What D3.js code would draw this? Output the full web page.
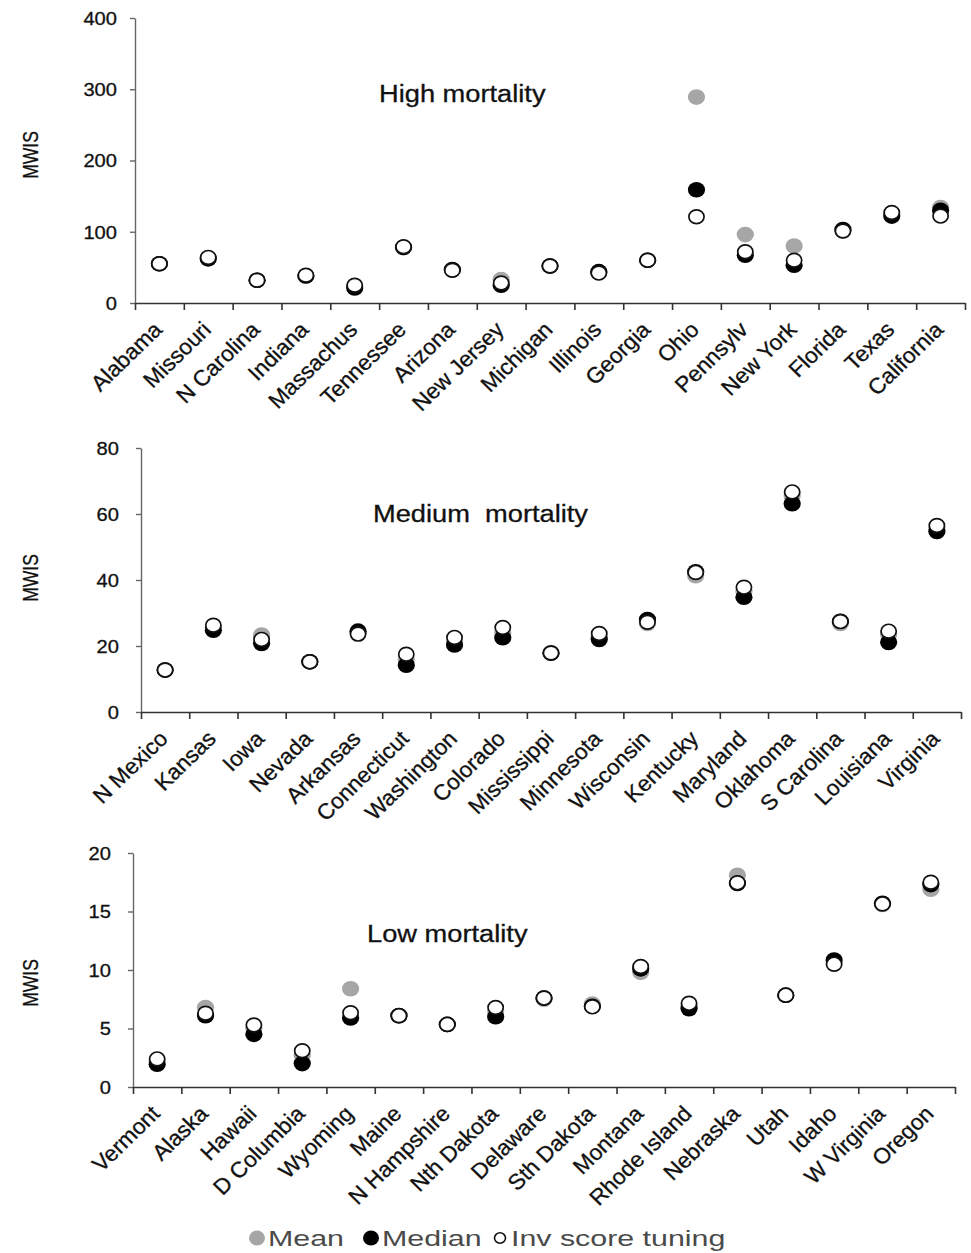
<!DOCTYPE html>
<html>
<head>
<meta charset="utf-8">
<script src="https://cdn.jsdelivr.net/npm/d3@7"></script>
<style>
  html, body { margin: 0; padding: 0; background: #fff; }
  svg { display: block; font-family: "Liberation Sans", Arial, sans-serif; }
</style>
</head>
<body>
<div id="chart"></div>
<script>
// ---------- data ----------
const highStates = ["Alabama", "Missouri", "N Carolina", "Indiana", "Massachus", "Tennessee", "Arizona",
  "New Jersey", "Michigan", "Illinois", "Georgia", "Ohio", "Pennsylv", "New York", "Florida", "Texas", "California"];
const highMean   = [55, 63, 32, 38, 24, 78, 46, 33, 52, 43, 60, 289, 96, 80, 101, 125, 134];
const highMedian = [55, 62, 32, 38, 21, 78, 47, 25, 52, 44, 60, 159, 67, 53, 103, 122, 130];
const highInv    = [55, 64, 32, 39, 25, 79, 46, 28, 52, 42, 60, 121, 72, 60, 101, 127, 122];

const medStates = ["N Mexico", "Kansas", "Iowa", "Nevada", "Arkansas", "Connecticut", "Washington", "Colorado",
  "Mississippi", "Minnesota", "Wisconsin", "Kentucky", "Maryland", "Oklahoma", "S Carolina", "Louisiana", "Virginia"];
const medMean   = [12.7, 25.5, 23.3, 15.2, 24, 16, 21.5, 24, 18, 23, 26.8, 41.3, 36.5, 65.5, 26.8, 23.5, 56];
const medMedian = [12.7, 24.8, 20.8, 15.2, 24.5, 14.2, 20.3, 22.5, 17.8, 22, 28, 42.5, 34.8, 63.1, 27.5, 21.1, 54.7];
const medInv    = [12.7, 26.3, 22, 15.2, 23.6, 17.5, 22.6, 25.6, 17.9, 23.8, 27.2, 42.3, 37.8, 66.7, 27.4, 24.5, 56.5];

const lowStates = ["Vermont", "Alaska", "Hawaii", "D Columbia", "Wyoming", "Maine", "N Hampshire", "Nth Dakota",
  "Delaware", "Sth Dakota", "Montana", "Rhode Island", "Nebraska", "Utah", "Idaho", "W Virginia", "Oregon"];
const lowMean   = [2.2, 6.8, 5.0, 2.7, 8.4, 6.1, 5.35, 6.5, 7.5, 7.1, 9.8, 7.0, 18.1, 7.85, 10.6, 15.6, 16.9];
const lowMedian = [1.95, 6.1, 4.5, 2.0, 5.9, 6.1, 5.35, 6.0, 7.6, 6.9, 10.1, 6.7, 17.4, 7.85, 10.85, 15.7, 17.3];
const lowInv    = [2.4, 6.3, 5.3, 3.1, 6.35, 6.1, 5.35, 6.8, 7.6, 6.85, 10.3, 7.15, 17.45, 7.85, 10.5, 15.65, 17.5];

const highTicks = [0, 100, 200, 300, 400];
const medTicks = [0, 20, 40, 60, 80];
const lowTicks = [0, 5, 10, 15, 20];

const seriesNames = ["Mean", "Median", "Inv score tuning"];

// ---------- layout ----------
const W = 971, H = 1253;
const GREY = "#a6a6a6";

const panels = [
  { title: "High mortality", cats: highStates, series: [highMean, highMedian, highInv], ticks: highTicks,
    x0: 135, x1: 965, yTop: 18, yBot: 303, tickOff: 18, titleX: 379, titleY: 102, labelY: 155 },
  { title: "Medium  mortality", cats: medStates, series: [medMean, medMedian, medInv], ticks: medTicks,
    x0: 141, x1: 961, yTop: 448, yBot: 712, tickOff: 22, titleX: 373, titleY: 522, labelY: 578 },
  { title: "Low mortality", cats: lowStates, series: [lowMean, lowMedian, lowInv], ticks: lowTicks,
    x0: 133, x1: 955, yTop: 853, yBot: 1087, tickOff: 22, titleX: 367, titleY: 942, labelY: 983 }
];

const svg = d3.select("#chart").append("svg")
  .attr("width", W)
  .attr("height", H)
  .style("background", "#fff");

// text that is a bit wider than the font, like in the source picture
function wideText(parent, x, y, angle, sx, size, anchor, str) {
  return parent.append("text")
    .attr("transform", `translate(${x},${y}) scale(${sx},1) rotate(${angle})`)
    .attr("text-anchor", anchor)
    .style("font-size", size + "px")
    .style("white-space", "pre")
    .text(str);
}

panels.forEach(function (p) {
  const g = svg.append("g");
  const n = p.cats.length;

  const y = d3.scaleLinear()
    .domain([0, d3.max(p.ticks)])
    .range([p.yBot, p.yTop]);

  const band = d3.scaleBand()
    .domain(p.cats)
    .range([p.x0, p.x1])
    .padding(0);

  const edge = d3.scaleLinear()
    .domain([0, n])
    .range([p.x0, p.x1]);

  // y axis
  const yAxis = g.append("g")
    .attr("transform", `translate(${p.x0},0)`)
    .call(d3.axisLeft(y).tickValues(p.ticks).tickSize(5).tickSizeOuter(0));
  yAxis.select(".domain").attr("stroke", "#666").attr("stroke-width", 1.4);
  yAxis.selectAll(".tick line").attr("stroke", "#666").attr("stroke-width", 1.4);
  yAxis.selectAll(".tick text")
    .attr("x", null)
    .attr("dy", "0.36em")
    .attr("transform", `translate(${-p.tickOff},0) scale(1.15,1)`)
    .attr("fill", "#111")
    .attr("stroke", "#111")
    .attr("stroke-width", 0.3)
    .style("font-size", "17.5px")
    .style("font-family", "'Liberation Sans', Arial, sans-serif");

  // x axis (ticks on category edges)
  const xAxis = g.append("g")
    .attr("transform", `translate(0,${p.yBot})`)
    .call(d3.axisBottom(edge).tickValues(d3.range(n + 1)).tickSize(7).tickSizeOuter(0).tickFormat(""));
  xAxis.select(".domain").attr("stroke", "#333").attr("stroke-width", 1.6);
  xAxis.selectAll(".tick line").attr("stroke", "#333").attr("stroke-width", 1.6);

  // category labels
  const lab = g.append("g").attr("fill", "#111").attr("stroke", "#111").attr("stroke-width", 0.3);
  p.cats.forEach(function (c) {
    wideText(lab, band(c) + band.bandwidth() / 2 + 4, p.yBot + 28, -45, 1.03, 22, "end", c);
  });

  // y title
  wideText(g, 38, p.labelY, -90, 1.25, 17.5, "middle", "MWIS")
    .attr("fill", "#111").attr("stroke", "#111").attr("stroke-width", 0.25);

  // panel title
  wideText(g, p.titleX, p.titleY, 0, 1.16, 23.5, "start", p.title)
    .attr("fill", "#111").attr("stroke", "#111").attr("stroke-width", 0.3);

  // markers: mean, median, then inv score on top
  const cx = (i) => band(p.cats[i]) + band.bandwidth() / 2;

  g.append("g").selectAll("ellipse")
    .data(p.series[0])
    .join("ellipse")
    .attr("cx", (d, i) => cx(i))
    .attr("cy", (d) => y(d))
    .attr("rx", 8.6)
    .attr("ry", 7.8)
    .attr("fill", GREY);

  g.append("g").selectAll("ellipse")
    .data(p.series[1])
    .join("ellipse")
    .attr("cx", (d, i) => cx(i))
    .attr("cy", (d) => y(d))
    .attr("rx", 8.6)
    .attr("ry", 7.8)
    .attr("fill", "#000");

  g.append("g").selectAll("ellipse")
    .data(p.series[2])
    .join("ellipse")
    .attr("cx", (d, i) => cx(i))
    .attr("cy", (d) => y(d))
    .attr("rx", 7.6)
    .attr("ry", 6.9)
    .attr("fill", "#fff")
    .attr("stroke", "#111")
    .attr("stroke-width", 1.7);
});

// ---------- legend ----------
const legend = svg.append("g").attr("fill", "#4a4a4a");
const legY = 1238;
const legItems = [
  { x: 257, tx: 268, fill: GREY, stroke: "none", r: 8 },
  { x: 371, tx: 382, fill: "#000", stroke: "none", r: 8 },
  { x: 500, tx: 511, fill: "#fff", stroke: "#111", r: 5.5 }
];
legItems.forEach(function (it, i) {
  legend.append("ellipse")
    .attr("cx", it.x)
    .attr("cy", legY)
    .attr("rx", it.r)
    .attr("ry", it.r * 0.95)
    .attr("fill", it.fill)
    .attr("stroke", it.stroke)
    .attr("stroke-width", 1.6);
  wideText(legend, it.tx, legY + 8, 0, 1.35, 22.5, "start", seriesNames[i]);
});
</script>
</body>
</html>
